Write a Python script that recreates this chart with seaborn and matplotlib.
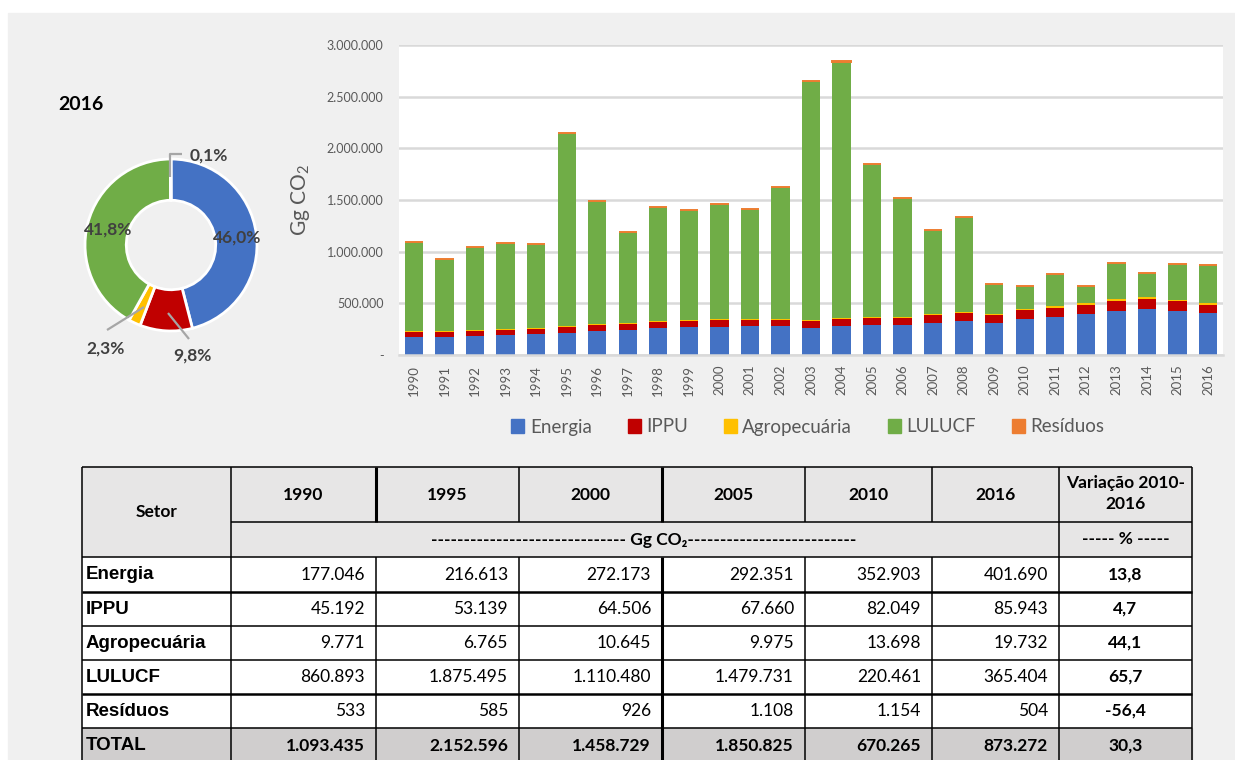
import numpy as np
import pandas as pd
import matplotlib.pyplot as plt
from matplotlib.patches import Rectangle, Patch
from matplotlib.ticker import FuncFormatter
import seaborn as sns

# ---------------------------------------------------------------------------
# DATA  (Gg CO2, bars in thousands of Gg)
# ---------------------------------------------------------------------------
anos = list(range(1990, 2017))
energia = [177.0, 178, 187, 190, 200, 216.6, 235, 242, 258, 268, 272.2, 277, 280, 266,
           280, 292.4, 290, 312, 325, 312, 352.9, 371, 393, 426, 448, 426, 401.7]
ippu = [45.2, 48, 48, 48, 52, 53.1, 58, 61, 58, 62, 64.5, 65, 55, 62,
        68, 67.7, 68, 75, 78, 71, 82.0, 84, 88, 93, 94, 93, 85.9]
agro = [9.8, 8, 10, 10, 10, 6.8, 6, 10, 12, 10, 10.6, 10, 13, 12,
        12, 10.0, 13, 13, 13, 12, 13.7, 19, 19, 20, 19, 13, 19.7]
lulucf = [860.9, 698, 797, 836, 809, 1875.5, 1191, 874, 1107, 1063, 1110.5, 1059, 1277, 2308,
          2480, 1479.7, 1152, 808, 918, 293, 220.5, 307, 165, 355, 229, 349, 365.4]
residuos = [0.53, 0.54, 0.55, 0.56, 0.57, 0.59, 0.62, 0.66, 0.71, 0.8, 0.93, 0.95, 1.0, 1.02,
            1.05, 1.11, 1.12, 1.13, 1.14, 1.15, 1.15, 1.0, 0.9, 0.8, 0.7, 0.6, 0.5]

setores = ["Energia", "IPPU", "Agropecuária", "LULUCF", "Resíduos"]
cores = ["#4472C4", "#C00000", "#FFC000", "#70AD47", "#ED7D31"]

# donut 2016
pizza_valores = [401690, 85943, 19732, 365404, 504]

# table
tab_anos = ["1990", "1995", "2000", "2005", "2010", "2016"]
tab_linhas = ["Energia", "IPPU", "Agropecuária", "LULUCF", "Resíduos", "TOTAL"]
tab_valores = [
    ["177.046", "216.613", "272.173", "292.351", "352.903", "401.690"],
    ["45.192", "53.139", "64.506", "67.660", "82.049", "85.943"],
    ["9.771", "6.765", "10.645", "9.975", "13.698", "19.732"],
    ["860.893", "1.875.495", "1.110.480", "1.479.731", "220.461", "365.404"],
    ["533", "585", "926", "1.108", "1.154", "504"],
    ["1.093.435", "2.152.596", "1.458.729", "1.850.825", "670.265", "873.272"],
]
tab_var = ["13,8", "4,7", "44,1", "65,7", "-56,4", "30,3"]

# ---------------------------------------------------------------------------
# STYLE
# ---------------------------------------------------------------------------
sns.set_theme(style="white")
plt.rcParams["font.family"] = ["Lato", "DejaVu Sans"]
plt.rcParams["mathtext.default"] = "regular"
GREY_TXT = "#595959"

W, H = 1235, 760


def box(x0, y0, x1, y1):
    # pixel box -> figure fraction
    return [x0 / W, 1 - y1 / H, (x1 - x0) / W, (y1 - y0) / H]


fig = plt.figure(figsize=(W / 100, H / 100), dpi=100, facecolor="white")

# background + table canvas (pixel coordinates)
bg = fig.add_axes([0, 0, 1, 1])
bg.set_xlim(0, W)
bg.set_ylim(H, 0)
bg.axis("off")
bg.add_patch(Rectangle((8, 13), W - 8, H - 13, color="#f0f0f0", zorder=0))
bg.text(58, 104, "2016", fontsize=14, fontweight="bold", color="black", va="center", ha="left")

# ---------------------------------------------------------------------------
# STACKED BARS
# ---------------------------------------------------------------------------
df = pd.DataFrame({"Ano": [str(a) for a in anos]})
for nome, serie in zip(setores, [energia, ippu, agro, lulucf, residuos]):
    df[nome] = np.array(serie) * 1000
cum = df[setores].cumsum(axis=1)

ax = fig.add_axes(box(398.7, 45, 1223.3, 355))
ax.set_facecolor("white")
# overlapping cumulative bars -> stacked look
for nome, cor in reversed(list(zip(setores[:4], cores[:4]))):
    sns.barplot(x=df["Ano"], y=cum[nome], color=cor, saturation=1, width=0.6,
                linewidth=0, ax=ax)
# Resíduos is tiny: thin cap on top of each bar
ax.bar(np.arange(len(anos)), df["Resíduos"], bottom=cum["LULUCF"], width=0.6,
       color=cores[4], edgecolor=cores[4], linewidth=1.4, zorder=3)

ax.set_xlim(-0.5, len(anos) - 0.5)
ax.set_ylim(0, 3_000_000)
ax.set_yticks(np.arange(0, 3_000_001, 500_000))
ax.yaxis.set_major_formatter(FuncFormatter(
    lambda v, _: "-" if v == 0 else f"{int(v):,}".replace(",", ".")))
ax.yaxis.grid(True, color="#d9d9d9", lw=1.8)
ax.set_axisbelow(True)
for s in ["top", "right", "left"]:
    ax.spines[s].set_visible(False)
ax.spines["bottom"].set_color("#d9d9d9")
ax.spines["bottom"].set_linewidth(1.8)
ax.tick_params(axis="y", length=0, pad=11, labelsize=9, labelcolor=GREY_TXT)
ax.tick_params(axis="x", length=0, pad=7, labelsize=9.5, labelcolor=GREY_TXT, rotation=90)
ax.set_xlabel("")
ax.set_ylabel("Gg CO$_2$", fontsize=15, color=GREY_TXT)
ax.yaxis.set_label_coords(-0.105, 0.5)

handles = [Patch(facecolor=c, edgecolor=c, label=n) for n, c in zip(setores, cores)]
leg = fig.legend(handles=handles, loc="center", bbox_to_anchor=(808 / W, 1 - 427 / H),
                 ncol=5, frameon=False, fontsize=13.5, handlelength=0.7, handleheight=0.7,
                 handletextpad=0.3, columnspacing=1.9)
for t in leg.get_texts():
    t.set_color(GREY_TXT)

# ---------------------------------------------------------------------------
# DONUT 2016
# ---------------------------------------------------------------------------
R = 86.0
axp = fig.add_axes(box(171 - 130, 245 - 130, 171 + 130, 245 + 130))
axp.set_facecolor("none")
axp.pie(pizza_valores, colors=cores, startangle=90, counterclock=False, radius=1,
        wedgeprops=dict(width=0.48, edgecolor="white", linewidth=2))
lim = 130 / R
axp.set_xlim(-lim, lim)
axp.set_ylim(-lim, lim)
axp.set_aspect("equal")
axp.axis("off")

pct = np.array(pizza_valores) / sum(pizza_valores) * 100
rot = [f"{p:.1f}%".replace(".", ",") for p in pct]


def d(x, y):
    return ((x - 171) / R, (245 - y) / R)


lab_kw = dict(fontsize=12.5, fontweight="bold", color="#404040", va="center")
LINE = "#a6a6a6"
axp.text(*d(237, 238), rot[0], ha="center", **lab_kw)
axp.text(*d(108, 230), rot[3], ha="center", **lab_kw)
axp.text(*d(192, 356), rot[1], ha="center", **lab_kw)
axp.text(*d(106, 349), rot[2], ha="center", **lab_kw)
axp.text(*d(190, 156), rot[4], ha="left", **lab_kw)
for pts in [[(168, 313), (189, 339)], [(144, 307), (107, 330)],
            [(170, 177), (170, 154), (182, 154)]]:
    xs, ys = zip(*[d(*p) for p in pts])
    axp.plot(xs, ys, color=LINE, lw=1.6, solid_capstyle="butt")

# ---------------------------------------------------------------------------
# TABLE
# ---------------------------------------------------------------------------
col_x = [82, 231, 376, 519, 662, 805, 932, 1059, 1192]
row_y = [467, 522, 557, 592, 626, 660, 694, 728, 764]
HEAD = "#e7e6e6"
TOT = "#d0cece"
hdr_kw = dict(fontsize=12.5, fontweight="bold", color="black", ha="center", va="center")
x0, x1 = col_x[0], col_x[-1]

bg.add_patch(Rectangle((x0, row_y[0]), x1 - x0, row_y[2] - row_y[0], color=HEAD, zorder=1))
bg.add_patch(Rectangle((x0, row_y[2]), x1 - x0, row_y[7] - row_y[2], color="white", zorder=1))
bg.add_patch(Rectangle((x0, row_y[7]), x1 - x0, row_y[8] - row_y[7], color=TOT, zorder=1))

bg.text((col_x[0] + col_x[1]) / 2, (row_y[0] + row_y[2]) / 2, "Setor", **hdr_kw)
for i, a in enumerate(tab_anos):
    bg.text((col_x[i + 1] + col_x[i + 2]) / 2, (row_y[0] + row_y[1]) / 2, a, **hdr_kw)
bg.text((col_x[7] + col_x[8]) / 2, (row_y[0] + row_y[1]) / 2 - 1, "Variação 2010-\n2016",
        linespacing=1.45, **hdr_kw)
bg.text(644, (row_y[1] + row_y[2]) / 2,
        "------------------------------ Gg CO₂--------------------------", **hdr_kw)
bg.text((col_x[7] + col_x[8]) / 2, (row_y[1] + row_y[2]) / 2, "----- % -----", **hdr_kw)

for r, nome in enumerate(tab_linhas):
    yc = (row_y[r + 2] + row_y[r + 3]) / 2
    bold = "bold" if nome == "TOTAL" else "normal"
    bg.text(86, yc, nome, fontsize=13.5, fontweight="bold", family="Liberation Sans",
            ha="left", va="center", color="black")
    for c, v in enumerate(tab_valores[r]):
        bg.text(col_x[c + 2] - 11, yc, v, fontsize=12.5, fontweight=bold,
                ha="right", va="center", color="black")
    bg.text((col_x[7] + col_x[8]) / 2, yc, tab_var[r], fontsize=12.5, fontweight="bold",
            ha="center", va="center", color="black")

# cell borders
ln = dict(color="black", zorder=3, solid_capstyle="butt")
# outer + fixed verticals
for x in [col_x[0], col_x[1], col_x[7], col_x[8]]:
    bg.plot([x, x], [row_y[0], row_y[-1]], lw=1.1, **ln)
# inner verticals: year row and body only (unit row is merged)
for x in col_x[2:7]:
    lw = 2.2 if x in (col_x[2], col_x[4]) else 1.1
    bg.plot([x, x], [row_y[0], row_y[1]], lw=lw, **ln)
    lw = 2.2 if x == col_x[4] else 1.1
    bg.plot([x, x], [row_y[2], row_y[-1]], lw=lw, **ln)
bg.plot([x0, x1], [row_y[0], row_y[0]], lw=1.1, **ln)
bg.plot([col_x[1], x1], [row_y[1], row_y[1]], lw=1.1, **ln)
for y in row_y[2:8]:
    lw = 1.8 if y in (row_y[3], row_y[6]) else 1.1
    bg.plot([x0, x1], [y, y], lw=lw, **ln)

fig.savefig("out.png", dpi=100, facecolor="white")
